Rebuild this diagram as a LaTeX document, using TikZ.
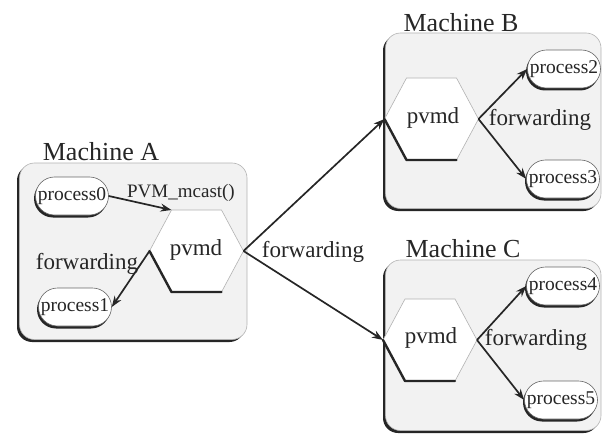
\documentclass[tikz,border=0pt]{standalone}
\usepackage{fontspec}
\setmainfont{Liberation Serif}
\newfontfamily\labelface{Liberation Serif}
\usetikzlibrary{arrows.meta,shadows,calc}

\tikzset{
  machine/.style={draw=black!30, line width=0.6pt, fill=black!5, rounded corners=15pt,
    inner sep=0pt,
    drop shadow={shadow xshift=-2.5pt, shadow yshift=-2.5pt, opacity=1, fill=black!85}},
  proc/.style={draw=black!60, line width=0.6pt, fill=white, rounded corners=19pt,
    minimum width=73pt, minimum height=38pt, inner sep=0pt, text=black!85,
    font=\labelface\fontsize{19.5}{19.5}\selectfont,
    drop shadow={shadow xshift=-1.5pt, shadow yshift=-2.5pt, opacity=1, fill=black!85}},
  lbl/.style={font=\labelface\fontsize{23}{23}\selectfont, text=black!85, inner sep=0pt},
  small/.style={font=\labelface\fontsize{19}{19}\selectfont, text=black!85, inner sep=0pt},
  title/.style={font=\labelface\fontsize{26}{26}\selectfont, text=black!85, inner sep=0pt},
  hexface/.style={fill=white, draw=black!30, line width=0.6pt, line join=miter},
  hexshade/.style={draw=black!85, line width=2.4pt, line join=round, line cap=round},
  flow/.style={-{Stealth[length=11pt,width=8pt]}, line width=1.7pt, draw=black!85},
}

% pvmd hexagon: name, centre x, centre y; corners are named coordinates
\newcommand{\pvmdhex}[3]{%
  \coordinate (#1) at (#2,#3);
  \path (#1) ++(-47,0) coordinate (#1-w) ++(22,41) coordinate (#1-sw)
        ++(50,0) coordinate (#1-se) ++(22,-41) coordinate (#1-e)
        ++(-22,-41) coordinate (#1-ne) ++(-50,0) coordinate (#1-nw);
  \draw[hexface] (#1-w) -- (#1-sw) -- (#1-se) -- (#1-e) -- (#1-ne) -- (#1-nw) -- cycle;
  \draw[hexshade, shift={(-0.5,1)}] (#1-w) -- (#1-sw) -- (#1-se);
}

\begin{document}
\begin{tikzpicture}[x=1pt,y=-1pt]
\useasboundingbox (0,0) rectangle (603,436);

% machine boxes
\node[machine, minimum width=227.5pt, minimum height=176.5pt] (boxA) at (133.25,251.25) {};
\node[machine, minimum width=215.5pt, minimum height=175.5pt] (boxB) at (493.25,120.75) {};
\node[machine, minimum width=215.5pt, minimum height=170.5pt] (boxC) at (493.25,345.25) {};

\node[title] (titleA) at (101,152) {Machine A};
\node[title] (titleB) at (461,23) {Machine B};
\node[title] (titleC) at (463,249) {Machine C};

% daemons
\pvmdhex{hexA}{196.5}{251}
\pvmdhex{hexB}{431.5}{119}
\pvmdhex{hexC}{430}{340}
\node[lbl] (pvmdA) at (196,250) {pvmd};
\node[lbl] (pvmdB) at (433,118) {pvmd};
\node[lbl] (pvmdC) at (431,338) {pvmd};

% processes
\node[proc] (p0) at (72,196) {process0};
\node[proc] (p1) at (75,307) {process1};
\node[proc] (p2) at (564,69) {process2};
\node[proc] (p3) at (563,179) {process3};
\node[proc] (p4) at (563,286) {process4};
\node[proc] (p5) at (561,400) {process5};

% labels
\node[small] (mcast) at (181,193) {PVM\_mcast()};
\node[lbl] (fwdA) at (87,264) {forwarding};
\node[lbl] (fwdM) at (313,252) {forwarding};
\node[lbl] (fwdB) at (540,120) {forwarding};
\node[lbl] (fwdC) at (536,340) {forwarding};

% messages
\draw[flow] (p0.east) -- (hexA-nw);
\draw[flow] (hexA-w) -- (p1.east);
\draw[flow] (hexA-e) -- (hexB-w);
\draw[flow] (hexA-e) -- (hexC-w);
\draw[flow] (hexB-e) -- (p2.west);
\draw[flow] (hexB-e) -- (p3.west);
\draw[flow] (hexC-e) -- (p4.west);
\draw[flow] (hexC-e) -- (p5.west);
\end{tikzpicture}
\end{document}
